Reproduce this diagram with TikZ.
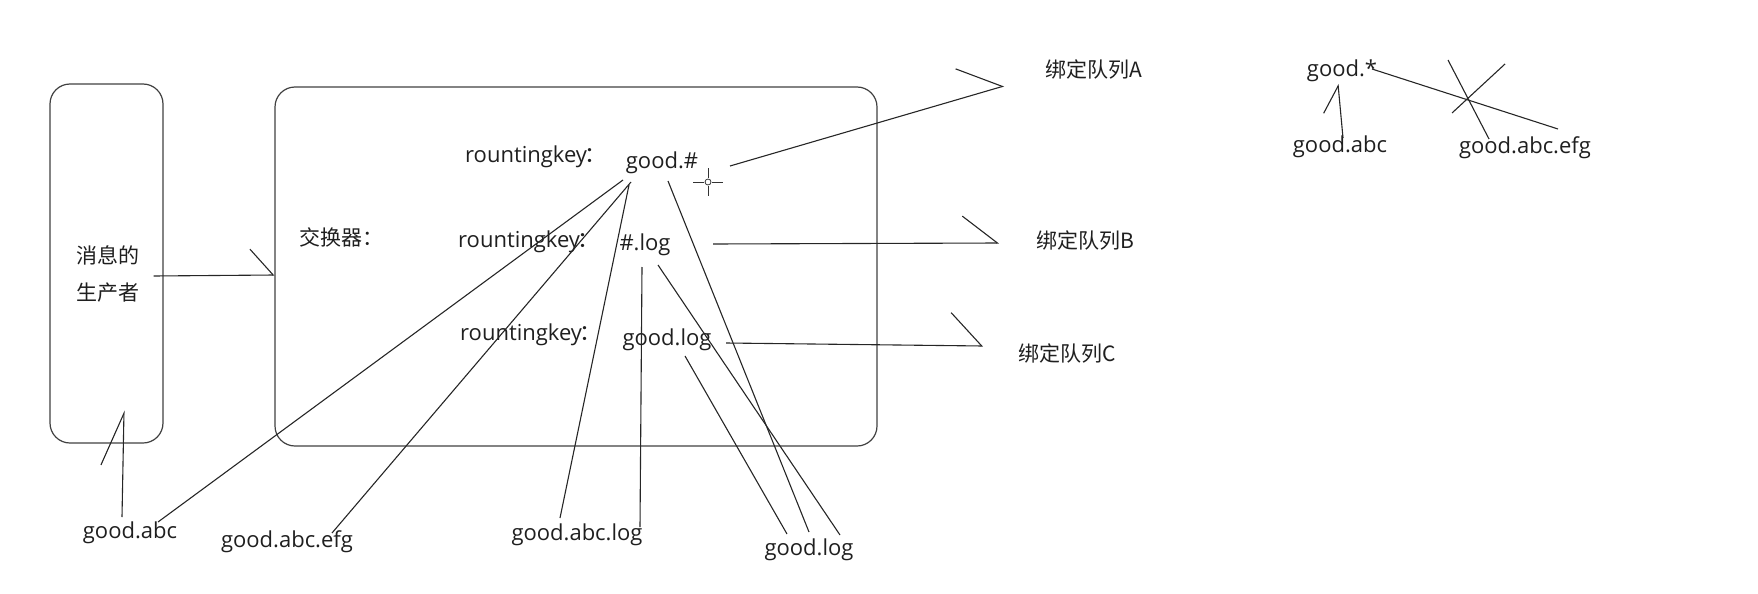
\documentclass[tikz,border=0pt]{standalone}
\usepackage{fontspec}
\setmainfont{Open Sans}
\newfontfamily\cjk{Noto Sans CJK SC}
\usetikzlibrary{arrows.meta,positioning}

\begin{document}
\begin{tikzpicture}[x=1pt, y=-1pt,
    box/.style={draw=black!75, line width=1.2pt, rounded corners=20pt},
    txt/.style={inner sep=0pt, text=black!88, font=\fontsize{22}{25}\selectfont},
    zh/.style={txt, font=\cjk\fontsize{21}{37}\selectfont},
    wire/.style={line width=1.1pt, black!85},
    barb/.style n args={2}{wire, -{Straight Barb[left, length=#1, width=#2]}}
]
\useasboundingbox (0,0) rectangle (1758,594);

% producer and exchange
\node[box, minimum width=113pt, minimum height=359pt] (producer) at (106.5,263.5) {};
\node[zh, align=center] (prodtext) at (108,274) {消息的\\生产者};
\node[box, minimum width=602pt, minimum height=359pt] (exchange) at (576,266.5) {};
\node[zh] (exlabel) at (341,237) {交换器：};

% routing keys
\node[txt, anchor=west] (rk1) at (465,157) {rountingkey\kern-3pt{\cjk ：}};
\node[txt] (key1) at (662,163) {good.\#};
\node[txt, anchor=west] (rk2) at (458,242) {rountingkey\kern-3pt{\cjk ：}};
\node[txt] (key2) at (645,245) {\#.log};
\node[txt, anchor=west] (rk3) at (460,335) {rountingkey\kern-3pt{\cjk ：}};
\node[txt] (key3) at (667,340) {good.log};

% queues
\node[zh] (queueA) at (1094,69) {绑定队列A};
\node[zh] (queueB) at (1085,240) {绑定队列B};
\node[zh] (queueC) at (1067,353) {绑定队列C};

% messages
\node[txt] (msgabc) at (130,533) {good.abc};
\node[txt] (msgefg) at (287,542) {good.abc.efg};
\node[txt] (msglog) at (577,535) {good.abc.log};
\node[txt] (msggoodlog) at (809,550) {good.log};

% wildcard note
\node[txt] (star) at (1342,71) {good.*};
\node[txt] (starabc) at (1340,147) {good.abc};
\node[txt] (starefg) at (1525,148) {good.abc.efg};

% sending
\draw[barb={23pt}{52pt}] ([shift={(-10,12.5)}]producer.east) -- ([shift={(0,8.5)}]exchange.west);
\draw[barb={52pt}{44pt}] ([shift={(-8,-16)}]msgabc.center) -- ([shift={(17.5,-33)}]producer.south);

% matching
\foreach \m/\ms/\k/\ks in {msgabc/{28,-11}/key1/{-39,17}, msgefg/{45,-9}/key1/{-31,19},
    msglog/{-17,-17}/key1/{-33,22}, msglog/{63,-8}/key2/{-3,22},
    msggoodlog/{0,-18}/key1/{6,18}, msggoodlog/{31,-15}/key2/{13,20},
    msggoodlog/{-22,-16}/key3/{18,16}}
  \draw[wire] ([shift={(\ms)}]\m.center) -- ([shift={(\ks)}]\k.center);

% binding
\draw[barb={40pt}{60pt}] ([shift={(68,3)}]key1.center) -- ([shift={(-90,17)}]queueA.center);
\draw[barb={35pt}{54pt}] ([shift={(68,-1)}]key2.center) -- ([shift={(-86,3)}]queueB.center);
\draw[barb={31pt}{66pt}] ([shift={(59,3)}]key3.center) -- ([shift={(-84,-7)}]queueC.center);

% good.*
\draw[barb={26pt}{34pt}] ([shift={(3,-9)}]starabc.center) -- ([shift={(-4,13)}]star.center);
\draw[wire] ([shift={(30,-2)}]star.center) -- ([shift={(33,-19)}]starefg.center);
\draw[wire] (1448,60) -- (1489,139);
\draw[wire] (1505,64) -- (1452,113);

% cursor
\coordinate (cursor) at (708,182);
\draw[line width=1pt, black!80] ([shift={(0,-14)}]cursor) -- ++(0,10) ([shift={(0,4)}]cursor) -- ++(0,10)
  ([shift={(-15,0)}]cursor) -- ++(11,0) ([shift={(4,0)}]cursor) -- ++(11,0);
\draw[line width=0.8pt, black!80] (cursor) circle (3);
\end{tikzpicture}
\end{document}
